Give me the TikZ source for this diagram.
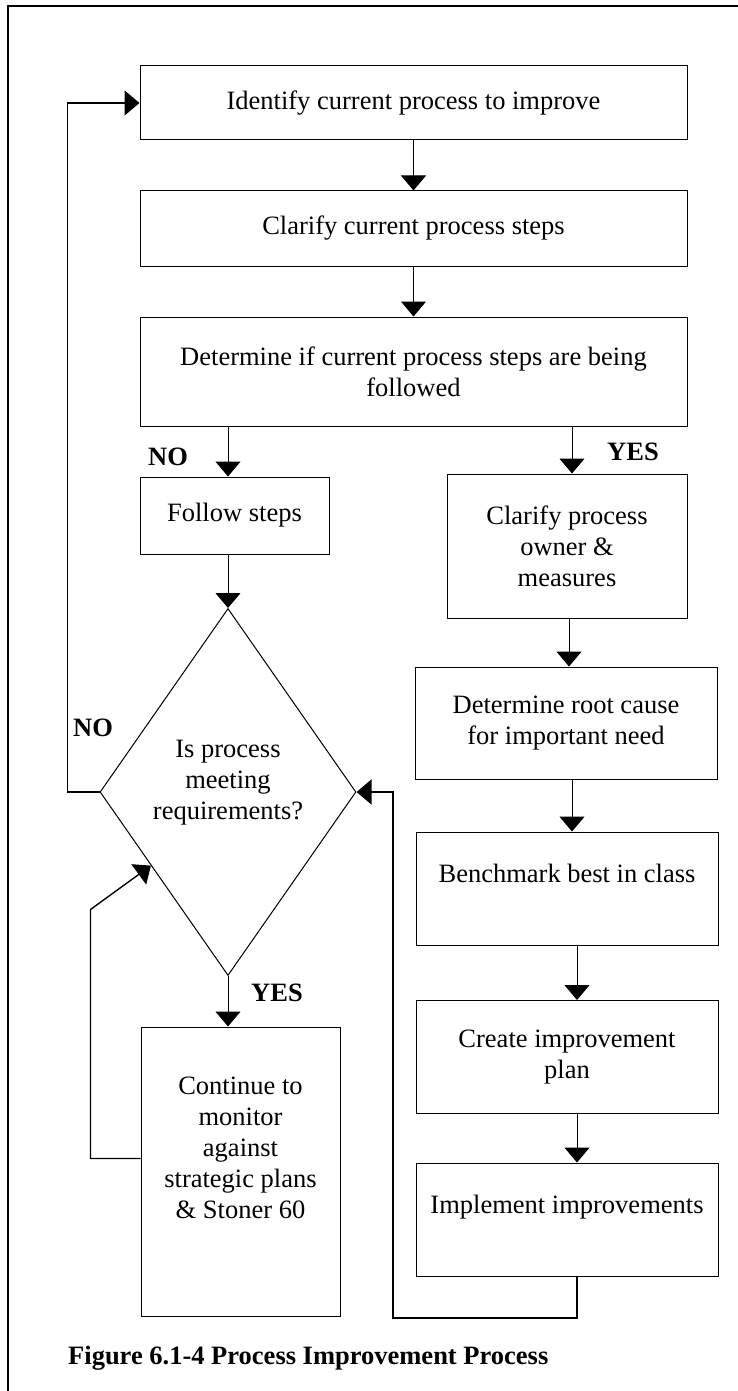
\documentclass[tikz,border=0pt]{standalone}
\usepackage{fontspec}
\setmainfont{Liberation Serif}
\usetikzlibrary{positioning, arrows.meta, shapes.geometric, calc}
\tikzset{
  procbox/.style={draw, line width=1pt, inner sep=2pt, align=center,
    font=\fontsize{26.5}{31}\selectfont},
  rightbox/.style={procbox, minimum width=302pt, minimum height=113pt},
  decbox/.style={procbox, diamond, aspect=0.7, inner sep=0pt,
    minimum width=256pt, minimum height=367pt},
  flow/.style={line width=1pt, -{Triangle[length=15pt, width=25pt]}},
  backflow/.style={line width=1.4pt, -{Triangle[length=15pt, width=25pt]}},
  lbl/.style={inner sep=0pt, font=\bfseries\fontsize{26.5}{31}\selectfont},
}

\begin{document}
\begin{tikzpicture}[x=1pt, y=-1pt]
  \useasboundingbox (0,0) rectangle (738,1391);
  \draw[line width=1.4pt] (8,1391) -- (8,6) -- (738,6);

  % main column
  \node[procbox, minimum width=547pt, minimum height=74pt] (ident) at (413.5,103) {Identify current process to improve};
  \node[procbox, minimum width=547pt, minimum height=75pt] (clar) at (413.5,228.5) {Clarify current process steps};
  \node[procbox, minimum width=547pt, minimum height=109pt] (det) at (413.5,371.5) {Determine if current process steps are being\\followed};

  % left branch
  \node[procbox, minimum width=189pt, minimum height=77pt] (follow) at (234.5,515.5) {Follow steps};
  \node[decbox] (req) at (228,792) {Is process\\meeting\\requirements?\\[-7pt]\mbox{}};
  \node[procbox, minimum width=199pt, minimum height=289pt] (mon) at (240.5,1171.5) {Continue to\\monitor\\against\\strategic plans\\\& Stoner 60\\[16pt]\mbox{}};

  % right branch
  \node[procbox, minimum width=240pt, minimum height=144pt] (owner) at (567,546) {Clarify process\\owner \&\\measures};
  \node[rightbox, minimum height=112pt] (root) at (566,723) {Determine root cause\\for important need};
  \node[rightbox] (bench) at (567,888.5) {Benchmark best in class\\ \mbox{}};
  \node[rightbox] (plan) at (567,1057) {Create improvement\\plan};
  \node[rightbox] (impl) at (567,1219.5) {Implement improvements\\ \mbox{}};

  % labels
  \node[lbl] (noTop) at (168,457) {NO};
  \node[lbl] (yesTop) at (633,452) {YES};
  \node[lbl] (noLeft) at (93,728) {NO};
  \node[lbl] (yesBot) at (277,993) {YES};
  \node[lbl, anchor=base west] (caption) at (68,1364) {Figure 6.1-4 Process Improvement Process};

  % connectors
  \draw[flow] (ident) -- (clar);
  \draw[flow] (clar) -- (det);
  \draw[flow] (det.south -| req.north) -- (follow.north -| req.north);
  \draw[flow] (follow.south -| req.north) -- (req.north);
  \draw[flow] (req.south) -- (mon.north -| req.south);
  \draw[flow] ($(owner.north |- det.south)+(5,0)$) -- ($(owner.north)+(5,0)$);
  \draw[flow] ($(owner.south)+(2,0)$) -- ($(root.north)+(3,0)$);
  \draw[flow] ($(root.south)+(6,0)$) -- ($(bench.north)+(5,0)$);
  \draw[flow] ($(bench.south)+(10,0)$) -- ($(plan.north)+(10,0)$);
  \draw[flow] ($(plan.south)+(10,0)$) -- ($(impl.north)+(10,0)$);

  \coordinate (retCorner) at (393,1318);
  \draw[backflow] ($(impl.south)+(10,0)$) |- (retCorner) |- (req.east);
  \draw[backflow] (req.west) -- ++(-32,0) |- (ident.west);
  \draw[backflow] ([yshift=13pt]mon.west) -- ++(-50,0) -- ++(0,-249) -- ($(req.west)!0.4!(req.south)$);
\end{tikzpicture}
\end{document}
